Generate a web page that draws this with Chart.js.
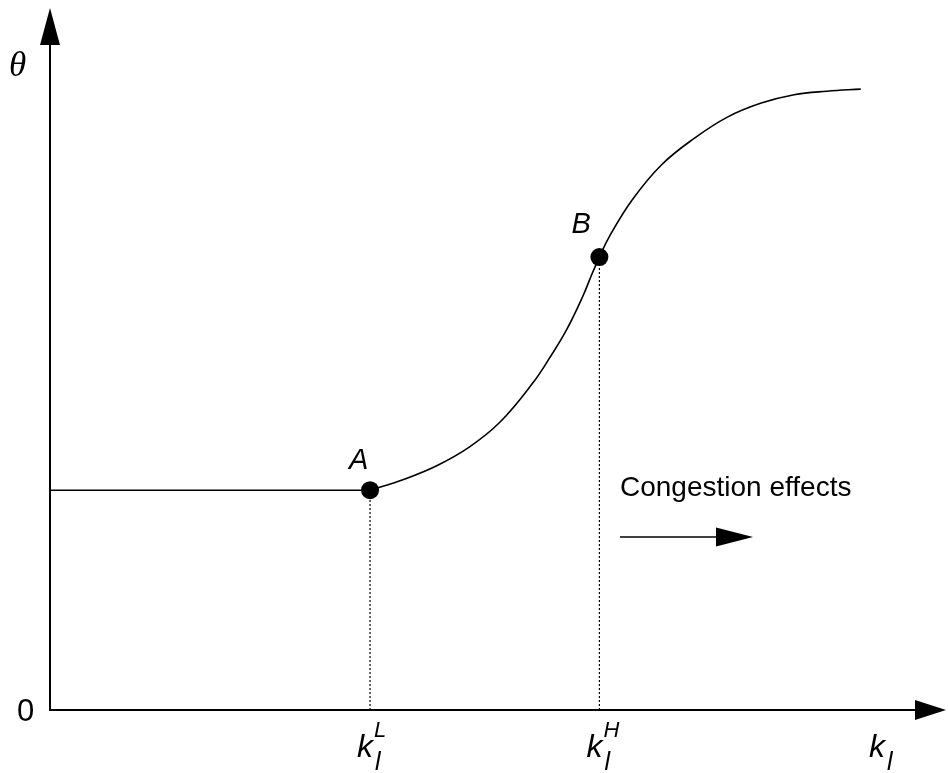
<!DOCTYPE html>
<html>
<head>
<meta charset="utf-8">
<script src="https://cdn.jsdelivr.net/npm/chart.js@4.4.1/dist/chart.umd.min.js"></script>
<style>
  html, body { margin: 0; padding: 0; background: #fff; }
  #wrap { width: 948px; height: 773px; }
</style>
</head>
<body>
<div id="wrap"><canvas id="c"></canvas></div>
<script>
// Flat part of theta below the lower threshold
const flatX = [0, 36.0];
const flatY = [31.4, 31.4];

// Rising part of theta as congestion sets in
const curveX = [36.0, 39.7, 43.5, 47.2, 50.6, 54.3, 56.2, 58.1, 59.9, 61.0, 61.8, 62.9, 65.5, 68.8, 72.5, 76.2, 80.0, 83.7, 87.4, 91.2];
const curveY = [31.4, 32.9, 34.9, 37.6, 41.1, 46.7, 50.3, 54.3, 59.0, 62.4, 64.7, 67.6, 72.9, 77.9, 81.7, 84.7, 86.7, 87.9, 88.4, 88.7];

// Marked thresholds
const pointNames = ['A', 'B'];
const pointX = [36.0, 61.8];
const pointY = [31.4, 64.7];
const tickNames = ['L', 'H'];

const FONT = '"Liberation Sans", Arial, sans-serif';

function zip(xs, ys) { return xs.map((x, i) => ({ x: x, y: ys[i] })); }

const dropLines = pointX.map((x, i) => ({
  data: [{ x: x, y: 0 }, { x: x, y: pointY[i] }],
  borderColor: '#000', borderWidth: 1.2, borderDash: [2, 2],
  pointRadius: 0, showLine: true, fill: false
}));

function arrowHead(ctx, tipX, tipY, dir, len, half) {
  ctx.beginPath();
  if (dir === 'up') {
    ctx.moveTo(tipX, tipY);
    ctx.lineTo(tipX - half, tipY + len);
    ctx.lineTo(tipX + half, tipY + len);
  } else {
    ctx.moveTo(tipX, tipY);
    ctx.lineTo(tipX - len, tipY - half);
    ctx.lineTo(tipX - len, tipY + half);
  }
  ctx.closePath();
  ctx.fill();
}

const decorations = {
  id: 'decorations',
  beforeDatasetsDraw(chart) {
    const ctx = chart.ctx;
    const xs = chart.scales.x, ys = chart.scales.y;
    const ox = xs.getPixelForValue(0), oy = ys.getPixelForValue(0);
    ctx.save();
    ctx.strokeStyle = '#000';
    ctx.fillStyle = '#000';
    ctx.lineWidth = 2;
    // axes with arrow heads
    ctx.beginPath();
    ctx.moveTo(ox, oy + 1); ctx.lineTo(ox, 40);
    ctx.moveTo(ox - 1, oy); ctx.lineTo(916, oy);
    ctx.stroke();
    arrowHead(ctx, ox, 8, 'up', 37, 10);
    arrowHead(ctx, 946, oy, 'right', 31, 10);
    ctx.restore();
  },
  afterDraw(chart) {
    const ctx = chart.ctx;
    const xs = chart.scales.x, ys = chart.scales.y;
    const oy = ys.getPixelForValue(0);
    ctx.save();
    ctx.fillStyle = '#000';
    ctx.textBaseline = 'alphabetic';
    ctx.textAlign = 'left';
    // axis title
    ctx.font = 'italic 35px "Liberation Serif", "DejaVu Serif", serif';
    ctx.fillText('\u03B8', 9, 76);
    // origin
    ctx.font = '31px ' + FONT;
    ctx.fillText('0', 17, 721);
    // point names
    ctx.font = 'italic 29px ' + FONT;
    pointNames.forEach((n, i) => {
      const px = xs.getPixelForValue(pointX[i]);
      const py = ys.getPixelForValue(pointY[i]);
      ctx.fillText(n, px - (i === 0 ? 21 : 28), py - (i === 0 ? 21 : 24));
    });
    // k_l labels
    function kLabel(kx, sup) {
      ctx.font = 'italic 32px ' + FONT;
      ctx.fillText('k', kx, oy + 47);
      ctx.font = 'italic 22px ' + FONT;
      if (sup) ctx.fillText(sup, kx + 17, oy + 27);
      ctx.font = 'italic 25px ' + FONT;
      ctx.fillText('l', kx + 18, oy + 60);
    }
    pointX.forEach((x, i) => kLabel(xs.getPixelForValue(x) - 13, tickNames[i]));
    kLabel(869, null);
    // congestion note
    ctx.font = '28px ' + FONT;
    ctx.fillText('Congestion effects', 620, 496);
    ctx.lineWidth = 1.5;
    ctx.beginPath();
    ctx.moveTo(620, 537); ctx.lineTo(720, 537);
    ctx.stroke();
    arrowHead(ctx, 753, 537, 'right', 37, 9.5);
    ctx.restore();
  }
};

new Chart(document.getElementById('c'), {
  type: 'scatter',
  data: {
    datasets: [
      ...dropLines,
      {
        data: zip(flatX, flatY),
        showLine: true, borderColor: '#000', borderWidth: 1.6,
        pointRadius: 0, fill: false
      },
      {
        data: zip(curveX, curveY),
        showLine: true, borderColor: '#000', borderWidth: 1.6,
        tension: 0.4, pointRadius: 0, fill: false
      },
      {
        data: zip(pointX, pointY),
        showLine: false, pointRadius: 9, pointBackgroundColor: '#000',
        pointBorderColor: '#000', pointBorderWidth: 0
      }
    ]
  },
  options: {
    responsive: true,
    maintainAspectRatio: false,
    animation: false,
    events: [],
    layout: { padding: { left: 50, right: 8, top: 10, bottom: 63 } },
    plugins: { legend: { display: false }, tooltip: { enabled: false } },
    scales: {
      x: { type: 'linear', min: 0, max: 100, display: false },
      y: { type: 'linear', min: 0, max: 100, display: false }
    }
  },
  plugins: [decorations]
});
</script>
</body>
</html>
